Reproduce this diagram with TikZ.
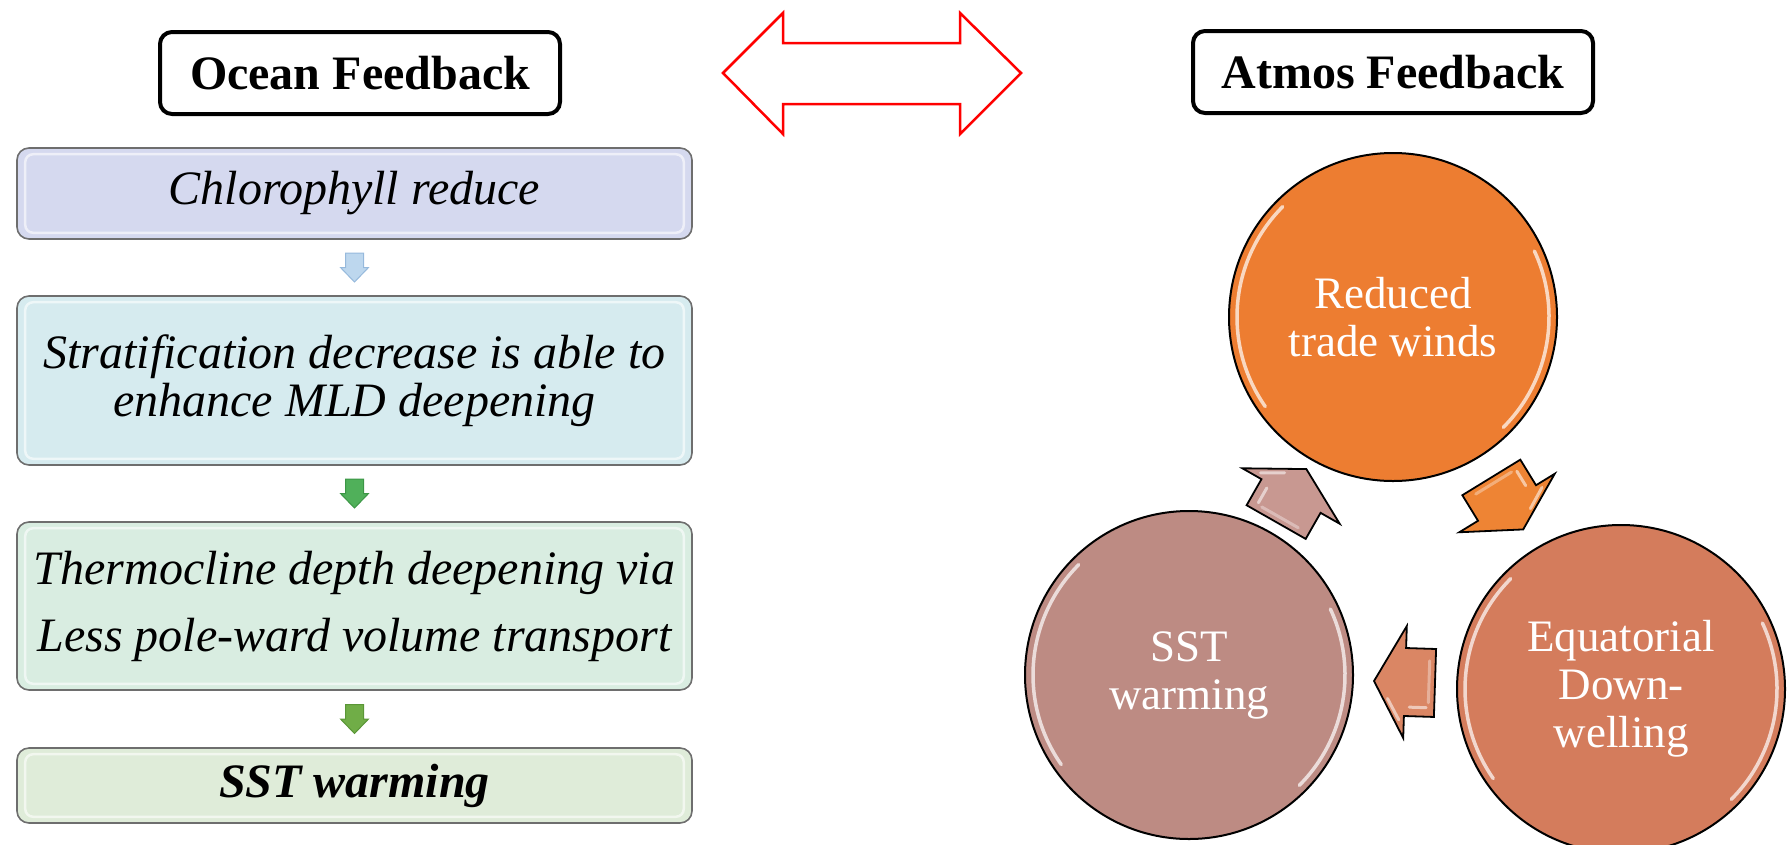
\documentclass[tikz,border=0pt]{standalone}
\usepackage{fontspec}
\setmainfont{Liberation Serif}
\usetikzlibrary{calc}
\definecolor{boxA}{RGB}{213,217,239}
\definecolor{boxB}{RGB}{214,235,239}
\definecolor{boxC}{RGB}{217,237,225}
\definecolor{boxD}{RGB}{223,236,217}
\definecolor{boxline}{RGB}{110,110,110}
\definecolor{arrA}{RGB}{189,215,238}
\definecolor{arrAline}{RGB}{150,185,220}
\definecolor{arrB}{RGB}{80,176,90}
\definecolor{arrBline}{RGB}{60,150,70}
\definecolor{arrC}{RGB}{112,173,71}
\definecolor{arrCline}{RGB}{90,150,55}
\definecolor{cR}{RGB}{237,125,49}
\definecolor{cE}{RGB}{212,124,92}
\definecolor{cS}{RGB}{189,139,131}
\definecolor{aR}{RGB}{238,132,52}
\definecolor{aE}{RGB}{218,134,100}
\definecolor{aS}{RGB}{200,152,145}
\begin{document}
\begin{tikzpicture}[x=1pt,y=-1pt,
  hdr/.style={draw=black, line width=4pt, rounded corners=12pt, fill=white,
    minimum width=400pt, minimum height=82pt, inner sep=0pt,
    font=\fontsize{48}{48}\selectfont\bfseries},
  obox/.style={draw=boxline, line width=1.6pt, rounded corners=12pt,
    minimum width=675pt, inner sep=0pt, align=center,
    font=\fontsize{48}{48}\selectfont\itshape},
  circ/.style={circle, draw=black, line width=2pt, minimum size=328pt,
    inner sep=0pt, align=center, text=white,
    font=\fontsize{45}{48}\selectfont},
  bevel/.style={white, opacity=.6, line width=2.5pt, rounded corners=8pt},
  glint/.style={white, opacity=.7, line width=3.5pt, line cap=round},
  downarr/.pic={
    \filldraw[pic actions, line width=1pt]
      (-9pt,14.5pt) -- (9pt,14.5pt) -- (9pt,0pt) -- (14pt,0pt) -- (0pt,-14.5pt)
      -- (-14pt,0pt) -- (-9pt,0pt) -- cycle;},
  cycarr/.pic={
    \filldraw[pic actions, draw=black, line width=1.8pt]
      (-30pt,34pt) -- (0pt,34pt) -- (0pt,56pt) -- (31pt,0pt) -- (0pt,-56pt)
      -- (0pt,-34pt) -- (-30pt,-34pt) -- cycle;
    \draw[white, opacity=.55, line width=3pt, line cap=round] (-22pt,25pt) -- (-5pt,25pt);
    \draw[white, opacity=.55, line width=3pt, line cap=round] (5pt,38pt) -- (17pt,17pt);
    \draw[white, opacity=.35, line width=3pt, line cap=round] (-24pt,-22pt) -- (-24pt,20pt);}
]
\useasboundingbox (0,0) rectangle (1787,844);
\clip (0,0) rectangle (1787,844);

% headers
\node[hdr] (ocean) at (360,73) {Ocean Feedback};
\node[hdr] (atmos) at (1393,72) {Atmos Feedback};

% red double arrow
\draw[red, line width=2.5pt, fill=white]
  (723,73) -- (783,13) -- (783,43) -- (960,43) -- (960,13) -- (1021,73)
  -- (960,134) -- (960,104) -- (783,104) -- (783,134) -- cycle;

% ocean boxes
\node[obox, fill=boxA, minimum height=91pt] (b1) at (354.5,193.5) {Chlorophyll reduce};
\node[obox, fill=boxB, minimum height=169pt] (b2) at (354.5,380.5)
  {Stratification decrease is able to\\enhance MLD deepening};
\node[obox, fill=boxC, minimum height=168pt, font=\fontsize{48}{67}\selectfont\itshape] (b3) at (354.5,606)
  {Thermocline depth deepening via\\Less pole-ward volume transport};
\node[obox, fill=boxD, minimum height=75pt, font=\fontsize{48}{48}\selectfont\bfseries\itshape] (b4) at (354.5,785.5)
  {SST warming};
\foreach \b in {b1,b2,b3,b4}
  \draw[bevel] ($(\b.south west)+(9pt,7pt)$) rectangle ($(\b.north east)+(-9pt,-7pt)$);

\path ($(b1.south)!.5!(b2.north)$) pic[fill=arrA, draw=arrAline] {downarr};
\path ($(b2.south)!.5!(b3.north)$) pic[fill=arrB, draw=arrBline] {downarr};
\path ($(b3.south)!.5!(b4.north)$) pic[fill=arrC, draw=arrCline] {downarr};

% cycle circles
\node[circ, fill=cR] (R) at (1393,317) {Reduced\\trade winds};
\node[circ, fill=cE] (E) at (1621,689) {Equatorial\\Down-\\welling};
\node[circ, fill=cS] (S) at (1189,675) {SST\\warming};
\foreach \c in {R,E,S} {
  \draw[glint] ([shift={(135:156pt)}]\c.center) arc (135:215:156pt);
  \draw[glint] ([shift={(-45:156pt)}]\c.center) arc (-45:25:156pt);
}

% cycle arrows
\path let \p1=($(R.center)-(S.center)$), \n1={atan2(\y1,\x1)} in
  ($(S.center)!.5!(R.center)$) pic[rotate=\n1, fill=aS] {cycarr};
\path let \p1=($(E.center)-(R.center)$), \n1={atan2(\y1,\x1)} in
  ($(R.center)!.5!(E.center)$) pic[rotate=\n1, fill=aR] {cycarr};
\path let \p1=($(S.center)-(E.center)$), \n1={atan2(\y1,\x1)} in
  ($(E.center)!.5!(S.center)$) pic[rotate=\n1, fill=aE] {cycarr};
\end{tikzpicture}
\end{document}
